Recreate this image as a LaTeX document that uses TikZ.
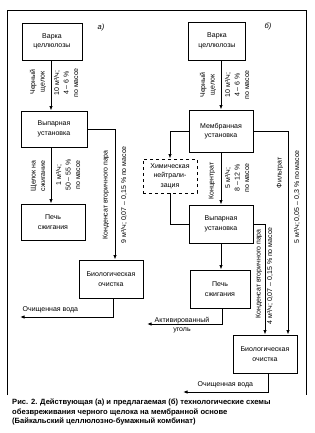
\documentclass[tikz,border=0pt]{standalone}
\usepackage{fontspec}
\setmainfont{Liberation Sans}
\usepackage{tikz}
\usetikzlibrary{arrows.meta,calc}

\tikzset{
  blok/.style={draw, line width=0.9pt, align=center, inner sep=1pt, font=\fontsize{7}{9.5}\selectfont},
  vlab/.style={rotate=90, align=center, inner sep=0.5pt, font=\fontsize{7}{9.5}\selectfont},
  tlab/.style={align=center, inner sep=0.5pt, font=\fontsize{7}{9.5}\selectfont},
  pot/.style={line width=0.9pt, -{Latex[length=4.5pt,width=3.4pt]}},
  lin/.style={line width=0.9pt},
}

\begin{document}
\begin{tikzpicture}[x=1pt,y=1pt,yscale=-1]
\useasboundingbox (0,0) rectangle (314,433);
%Frame
\draw [line width=0.7pt] (7,395) -- (7,10) -- (306,10) -- (306,395) ;

%Scheme a: boxes
\node [blok, minimum width=60pt, minimum height=37pt] (varkaA) at (52,41.5) {Варка\\целлюлозы};
\node [blok, minimum width=66pt, minimum height=36pt] (vypA) at (54,129) {Выпарная\\установка};
\node [blok, minimum width=64pt, minimum height=36pt] (pechA) at (53,222) {Печь\\сжигания};
\node [blok, minimum width=64pt, minimum height=38pt] (bioA) at (111,279) {Биологическая\\очистка};
\coordinate (outA) at (20,317);
% Text Node
\node [tlab, font=\fontsize{7.5}{8}\itshape] (tagA) at (101,28) {а)};

%Scheme a: connectors
\draw [pot] (varkaA.south -| 51,0) -- (vypA.north -| 51,0) ;
\draw [pot] (vypA.south -| 51,0) -- (pechA.north -| 51,0) ;
\draw [pot] (vypA.east) -| ($(bioA.north)+(4,0)$) ;
\draw [pot] ($(bioA.south)+(2,0)$) |- (outA) ;

%Scheme a: labels
\node [vlab] (lA1) at (38,82) {Черный\\щелок};
\node [vlab] (lA2) at (66,83) {10 м³/ч;\\4 – 6 \%\\по массе};
\node [vlab] (lA3) at (38,176) {Щелок на\\сжигание};
\node [vlab] (lA4) at (68,175) {1 м³/ч;\\50 – 55 \%\\по массе};
\node [vlab] (lA5) at (106,195) {Конденсат вторичного пара};
\node [vlab] (lA6) at (124,195) {9 м³/ч; 0,07 – 0,15 \% по массе};
\node [tlab, anchor=south west] (lA7) at (22,314) {Очищенная вода};

%Scheme b: boxes
\node [blok, minimum width=57pt, minimum height=38pt] (varkaB) at (217,41) {Варка\\целлюлозы};
\node [blok, minimum width=64pt, minimum height=42pt] (membB) at (221,131) {Мембранная\\установка};
\node [blok, dashed, minimum width=54pt, minimum height=34pt] (chemB) at (170,176) {Химическая\\нейтрали-\\зация};
\node [blok, minimum width=64pt, minimum height=38pt] (vypB) at (221,224) {Выпарная\\установка};
\node [blok, minimum width=60pt, minimum height=38pt] (pechB) at (220,289) {Печь\\сжигания};
\node [blok, minimum width=64pt, minimum height=38pt] (bioB) at (265,354) {Биологическая\\очистка};
\coordinate (ugolB) at (147,324);
\coordinate (outB) at (183,392);
% Text Node
\node [tlab, font=\fontsize{7.5}{8}\itshape] (tagB) at (268,27) {б)};

%Scheme b: connectors
\draw [pot] (membB.north |- varkaB.south) -- (membB.north) ;
\draw [pot] (membB.west) -| (chemB.north) ;
\draw [lin] (chemB.south) |- (vypB.west) ;
\draw [pot] (membB.south) -- (vypB.north) ;
\draw [pot] (vypB.south) -- (vypB.south |- pechB.north) ;
\draw [pot] ($(pechB.south)+(2,0)$) |- (ugolB) ;
\draw [pot] (vypB.east) -| (bioB.north) ;
\draw [pot] (membB.east) -| ($(bioB.north)+(23,0)$) ;
\draw [pot] ($(bioB.south)+(3,0)$) |- (outB) ;

%Scheme b: labels
\node [vlab] (lB1) at (208,85) {Черный\\щелок};
\node [vlab] (lB2) at (237,85) {10 м³/ч;\\4 – 6 \%\\по массе};
\node [vlab] (lB3) at (212,181) {Концентрат};
\node [vlab] (lB4) at (237,178) {5 м³/ч;\\8 – 12 \%\\по массе};
\node [vlab] (lB5) at (280,173) {Фильтрат};
\node [vlab] (lB6) at (297,197) {5 м³/ч; 0,05 – 0,3 \% по массе};
\node [vlab] (lB7) at (259,274) {Конденсат вторичного пара};
\node [vlab] (lB8) at (270,276) {4 м³/ч; 0,07 – 0,15 \% по массе};
\node [tlab] (lB9) at (182,325) {Активированный\\уголь};
\node [tlab, anchor=south west] (lB10) at (197,389) {Очищенная вода};

% Caption
\node [anchor=north west, align=left, inner sep=0pt, font=\fontsize{7.6}{9.3}\bfseries] (capt) at (12,399)
  {Рис. 2. Действующая (а) и предлагаемая (б) технологические схемы\\
   обезвреживания черного щелока на мембранной основе\\
   (Байкальский целлюлозно-бумажный комбинат)};
\end{tikzpicture}
\end{document}
